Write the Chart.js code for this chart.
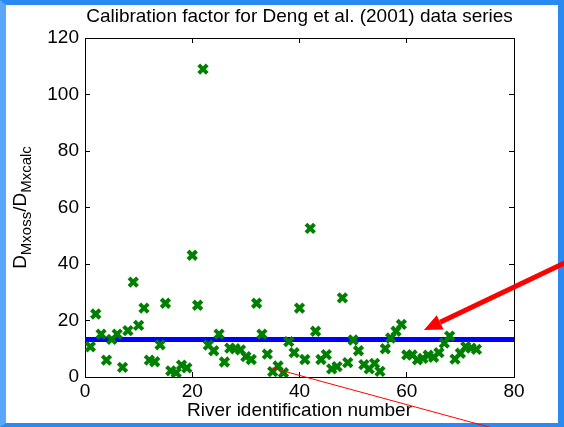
<!DOCTYPE html>
<html>
<head>
<meta charset="utf-8">
<script src="https://cdn.jsdelivr.net/npm/chart.js@4"></script>
<style>
  html, body { margin: 0; padding: 0; background: #fff; }
  #frame {
    position: absolute; left: 0; top: 0; width: 564px; height: 427px;
    box-sizing: border-box; background: #fff;
    border-top: 5px solid #2a8af2; border-left: 6px solid #5aa6fb;
    border-right: 6px solid #2a8af2; border-bottom: 4px solid #2a8af2;
  }
  #wrap { position: absolute; left: 0; top: 0; width: 564px; height: 427px; }
</style>
</head>
<body>
<div id="frame"></div>
<div id="wrap"><canvas id="calibChart" width="564" height="427"></canvas></div>
<script>
var riverIds = [1, 2, 3, 4, 5, 6, 7, 8, 9, 10, 11, 12, 13, 14, 15, 16, 17, 18, 19, 20,
    21, 22, 23, 24, 25, 26, 27, 28, 29, 30, 31, 32, 33, 34, 35, 36, 37, 38, 39, 40,
    41, 42, 43, 44, 45, 46, 47, 48, 49, 50, 51, 52, 53, 54, 55, 56, 57, 58, 59, 60,
    61, 62, 63, 64, 65, 66, 67, 68, 69, 70, 71, 72, 73];
var calibFactor = [10.7, 22.3, 15.2, 6.0, 13.3, 15.2, 3.4, 16.4, 33.6, 18.3,
    24.4, 6.0, 5.4, 11.4, 26.1, 2.2, 1.5, 4.2, 3.2, 43.1,
    25.4, 109, 11.3, 9.3, 15.2, 5.3, 10.2, 10.0, 9.6, 7.2,
    6.2, 26.1, 15.2, 8.1, 1.9, 3.9, 1.5, 12.5, 8.6, 24.4,
    6.2, 52.6, 16.2, 6.2, 7.9, 2.9, 3.7, 28.0, 5.1, 13.1,
    9.3, 4.4, 2.9, 4.8, 2.0, 10.0, 13.8, 16.2, 18.6, 7.8,
    7.8, 6.1, 6.6, 7.7, 7.0, 8.6, 12.0, 14.5, 6.3, 8.4,
    10.7, 10.2, 9.8];
var meanFactor = 13.3;
var xTicks = [0, 20, 40, 60, 80];
var yTicks = [0, 20, 40, 60, 80, 100, 120];

// slide annotations, in data units
var arrowTail = {x: 92.3, y: 43.0};
var arrowTip = {x: 63.2, y: 16.6};
var pointerStart = {x: 34.9, y: 3.2};
var pointerEnd = {x: 81.1, y: -20.7};

var fontFam = '"Liberation Sans", Arial, sans-serif';
var tickFont = {family: fontFam, size: 19, lineHeight: 1.2};

var points = riverIds.map(function (id, i) { return {x: id, y: calibFactor[i]}; });
var meanLine = [{x: xTicks[0], y: meanFactor}, {x: xTicks[xTicks.length - 1], y: meanFactor}];

var slideExtras = {
    id: 'slideExtras',
    afterDraw: function (chart) {
        var c = chart.ctx, xs = chart.scales.x, ys = chart.scales.y;
        c.save();
        // y axis label with subscripts
        c.translate(26, (chart.chartArea.top + chart.chartArea.bottom) / 2);
        c.rotate(-Math.PI / 2);
        c.fillStyle = '#000';
        c.textBaseline = 'alphabetic';
        var parts = [['D', 19, 0], ['Mxoss', 15, 5], ['/D', 19, 0], ['Mxcalc', 15, 5]];
        var total = 0;
        parts.forEach(function (p) { c.font = p[1] + 'px ' + fontFam; total += c.measureText(p[0]).width; });
        var px = -total / 2;
        parts.forEach(function (p) {
            c.font = p[1] + 'px ' + fontFam;
            c.fillText(p[0], px, p[2]);
            px += c.measureText(p[0]).width;
        });
        c.restore();

        // thin red pointer line
        c.save();
        c.strokeStyle = '#ff0000';
        c.lineWidth = 1;
        c.beginPath();
        c.moveTo(xs.getPixelForValue(pointerStart.x), ys.getPixelForValue(pointerStart.y));
        c.lineTo(xs.getPixelForValue(pointerEnd.x), ys.getPixelForValue(pointerEnd.y));
        c.stroke();

        // thick red arrow
        var tx = xs.getPixelForValue(arrowTip.x), ty = ys.getPixelForValue(arrowTip.y);
        var sx = xs.getPixelForValue(arrowTail.x), sy = ys.getPixelForValue(arrowTail.y);
        var ang = Math.atan2(ty - sy, tx - sx);
        var headLen = 18, headW = 8;
        var bx = tx - headLen * Math.cos(ang), by = ty - headLen * Math.sin(ang);
        c.strokeStyle = '#ff0000';
        c.fillStyle = '#ff0000';
        c.lineWidth = 5;
        c.beginPath();
        c.moveTo(sx, sy);
        c.lineTo(bx, by);
        c.stroke();
        c.beginPath();
        c.moveTo(tx, ty);
        c.lineTo(bx + headW * Math.sin(ang), by - headW * Math.cos(ang));
        c.lineTo(bx - headW * Math.sin(ang), by + headW * Math.cos(ang));
        c.closePath();
        c.fill();
        c.restore();
    }
};

var inwardGrid = {drawOnChartArea: false, drawTicks: true, tickLength: -5, color: '#000', lineWidth: 1};
var blackBorder = {display: true, color: '#000', width: 1};

var ctx = document.getElementById('calibChart').getContext('2d');
var calibChart = new Chart(ctx, {
    type: 'scatter',
    data: {
        datasets: [{
            data: points,
            pointStyle: 'crossRot',
            radius: 6,
            borderWidth: 4,
            borderColor: 'rgb(0, 128, 0)',
            backgroundColor: 'rgb(0, 128, 0)'
        }, {
            type: 'line',
            data: meanLine,
            borderColor: 'rgb(0, 0, 255)',
            borderWidth: 5,
            pointRadius: 0,
            fill: false
        }]
    },
    plugins: [slideExtras],
    options: {
        responsive: false,
        animation: false,
        layout: {padding: {left: 35, right: 0, top: 0, bottom: 0}},
        plugins: {
            legend: {display: false},
            tooltip: {enabled: false},
            title: {
                display: true,
                text: 'Calibration factor for Deng et al. (2001) data series',
                color: '#000',
                font: {family: fontFam, size: 19, weight: 'normal', lineHeight: 1},
                padding: {top: 7.5, bottom: 2}
            }
        },
        scales: {
            x: {
                type: 'linear', position: 'bottom', min: 0, max: 80,
                afterBuildTicks: function (s) { s.ticks = xTicks.map(function (v) { return {value: v}; }); },
                afterFit: function (s) { s.height = 50; },
                ticks: {color: '#000', font: tickFont, padding: 8.6, maxRotation: 0},
                grid: inwardGrid,
                border: blackBorder,
                title: {
                    display: true, text: 'River identification number', color: '#000',
                    font: {family: fontFam, size: 19, lineHeight: 1.2}, padding: {top: 0, bottom: 5}
                }
            },
            x2: {
                type: 'linear', position: 'top', min: 0, max: 80,
                afterBuildTicks: function (s) { s.ticks = xTicks.map(function (v) { return {value: v}; }); },
                afterFit: function (s) { s.height = 9.5; },
                ticks: {display: false},
                grid: inwardGrid,
                border: blackBorder
            },
            y: {
                type: 'linear', position: 'left', min: 0, max: 120,
                afterBuildTicks: function (s) { s.ticks = yTicks.map(function (v) { return {value: v}; }); },
                afterFit: function (s) { s.width = 50; },
                ticks: {color: '#000', font: tickFont, padding: 11},
                grid: inwardGrid,
                border: blackBorder
            },
            y2: {
                type: 'linear', position: 'right', min: 0, max: 120,
                afterBuildTicks: function (s) { s.ticks = yTicks.map(function (v) { return {value: v}; }); },
                afterFit: function (s) { s.width = 50; },
                ticks: {display: false},
                grid: inwardGrid,
                border: blackBorder
            }
        }
    }
});
</script>
</body>
</html>
